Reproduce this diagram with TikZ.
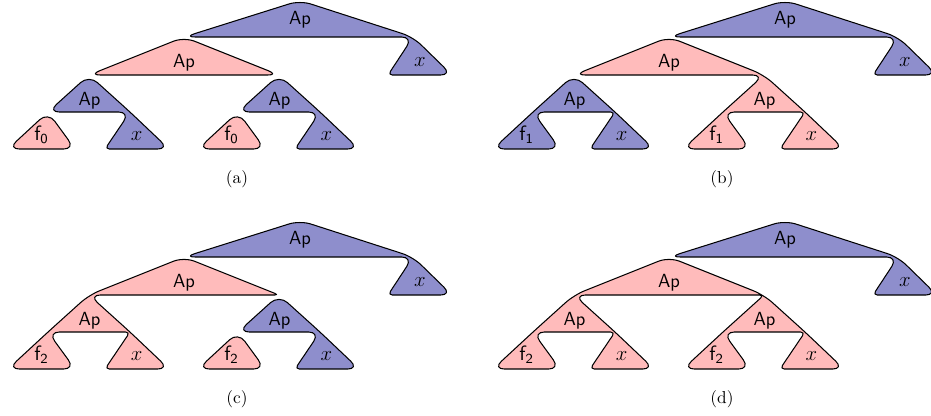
\documentclass[tikz,border=0pt]{standalone}
\definecolor{nodeblue}{RGB}{142,142,204}
\definecolor{nodepink}{RGB}{255,187,187}
\usepackage{amsmath}
\usepackage{tikz}

% corner points of one tree (pixel units, y downwards)
\newcommand{\treecoords}{%
  \coordinate (R)  at (300,0.5);
  \coordinate (A)  at (184,37);
  \coordinate (X1) at (413,37);
  \coordinate (B)  at (89,75);
  \coordinate (C)  at (279,75);
  \coordinate (fB) at (48,112);
  \coordinate (xB) at (130,112);
  \coordinate (fC) at (238,112);
  \coordinate (xC) at (320,112);
  % leaf base corners
  \coordinate (X1l) at (388,75);  \coordinate (X1r) at (452,75);
  \coordinate (fBl) at (8,149);   \coordinate (fBr) at (75,149);
  \coordinate (xBl) at (105,149); \coordinate (xBr) at (169,149);
  \coordinate (fCl) at (198,149); \coordinate (fCr) at (265,149);
  \coordinate (xCl) at (295,149); \coordinate (xCr) at (359,149);
}
% labels of one tree: #1 panel, #2 index of f
\newcommand{\treelabels}[2]{%
  \node[lbl] (#1root) at (300,24.3) {Ap};
  \node[lbl] (#1apA)  at (184,67)   {Ap};
  \node[lbl] (#1apB)  at (89.5,105.3) {Ap};
  \node[lbl] (#1apC)  at (279.5,105.3) {Ap};
  \node[var] (#1x1)   at (420,66)  {$x$};
  \node[leaf] (#1fB)  at (41.5,140) {f$_{\mathsf{#2}}$};
  \node[var] (#1xB)   at (136.7,140) {$x$};
  \node[leaf] (#1fC)  at (231.5,140) {f$_{\mathsf{#2}}$};
  \node[var] (#1xC)   at (326.5,140) {$x$};
  \node[captext] (#1cap) at (237,183) {(#1)};
}

\begin{document}
\begin{tikzpicture}[
    x=0.578pt, y=-0.578pt,
    region/.style={draw=black, line width=0.6pt, rounded corners=6.5pt,
                   line join=round},
    bluereg/.style={region, fill=nodeblue},
    pinkreg/.style={region, fill=nodepink},
    tight/.style={rounded corners=2.5pt},
    soft/.style={rounded corners=6.5pt},
    lbl/.style={anchor=base, font=\sffamily\fontsize{11}{13}\selectfont,
                inner sep=0pt},
    leaf/.style={anchor=base, font=\sffamily\large, inner sep=0pt},
    var/.style={anchor=base, font=\large, inner sep=0pt},
    captext/.style={anchor=base, inner sep=0pt},
  ]
  \clip (0,0) rectangle (931,415);

  % (a)
  \begin{scope}
    \treecoords
    \draw[bluereg] (R) -- (A) -- (X1) [tight] -- (X1l) [soft] -- (X1r)
      -- (X1) -- cycle;
    \draw[pinkreg] (A) -- (B) -- (C) -- cycle;
    \draw[bluereg] (B) -- (fB) -- (xB) [tight] -- (xBl) [soft] -- (xBr)
      -- (xB) -- cycle;
    \draw[pinkreg] (fB) -- (fBl) -- (fBr) -- cycle;
    \draw[bluereg] (C) -- (fC) -- (xC) [tight] -- (xCl) [soft] -- (xCr)
      -- (xC) -- cycle;
    \draw[pinkreg] (fC) -- (fCl) -- (fCr) -- cycle;
    \treelabels{a}{0}
  \end{scope}

  % (b)
  \begin{scope}[shift={(485,0)}]
    \treecoords
    \draw[bluereg] (R) -- (A) -- (X1) [tight] -- (X1l) [soft] -- (X1r)
      -- (X1) -- cycle;
    \draw[bluereg] (B) -- (fB) -- (fBl) -- (fBr) -- (fB) [tight] -- (xB)
      -- (xBl) [soft] -- (xBr) -- (xB) -- cycle;
    \draw[pinkreg] (A) -- (B) -- (C) [tight] -- (fC) [soft] -- (fCl)
      -- (fCr) -- (fC) [tight] -- (xC) -- (xCl) [soft] -- (xCr) -- (xC)
      -- (C) -- cycle;
    \treelabels{b}{1}
  \end{scope}

  % (c)
  \begin{scope}[shift={(0,220)}]
    \treecoords
    \draw[bluereg] (R) -- (A) -- (X1) [tight] -- (X1l) [soft] -- (X1r)
      -- (X1) -- cycle;
    \draw[pinkreg] (A) -- (B) -- (fB) -- (fBl) -- (fBr) -- (fB) [tight]
      -- (xB) -- (xBl) [soft] -- (xBr) -- (xB) -- (B) [tight] -- (C) [soft]
      -- cycle;
    \draw[bluereg] (C) -- (fC) -- (xC) [tight] -- (xCl) [soft] -- (xCr)
      -- (xC) -- cycle;
    \draw[pinkreg] (fC) -- (fCl) -- (fCr) -- cycle;
    \treelabels{c}{2}
  \end{scope}

  % (d)
  \begin{scope}[shift={(485,220)}]
    \treecoords
    \draw[bluereg] (R) -- (A) -- (X1) [tight] -- (X1l) [soft] -- (X1r)
      -- (X1) -- cycle;
    \draw[pinkreg] (A) -- (B) -- (fB) -- (fBl) -- (fBr) -- (fB) [tight]
      -- (xB) -- (xBl) [soft] -- (xBr) -- (xB) -- (B) [tight] -- (C)
      -- (fC) [soft] -- (fCl) -- (fCr) -- (fC) [tight] -- (xC) -- (xCl)
      [soft] -- (xCr) -- (xC) -- (C) -- cycle;
    \treelabels{d}{2}
  \end{scope}
\end{tikzpicture}
\end{document}
